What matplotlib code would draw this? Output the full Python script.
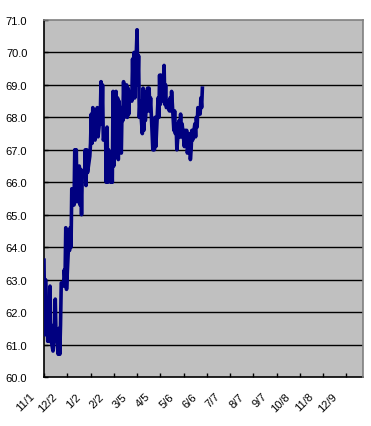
import numpy as np
import pandas as pd
import matplotlib
matplotlib.use('Agg')
import matplotlib.pyplot as plt
import matplotlib.transforms as mtransforms

plt.rcParams['font.family'] = ['Liberation Sans', 'DejaVu Sans']

# daily values, business days from 2006-11-01
start = '2006-11-01'
values = [
    63.6, 61.3, 63.0, 61.1, 62.0, 61.1, 62.8, 61.2, 60.8, 61.6,
    61.4, 62.4, 61.3, 60.7, 61.5, 60.7, 61.6, 62.9, 62.8, 63.3,
    63.0, 64.6, 62.7, 64.2, 63.9, 64.6, 64.0, 65.8, 65.3, 67.0,
    65.5, 67.0, 65.4, 66.5, 65.3, 66.4, 65.0, 66.3, 66.2, 67.0,
    65.9, 67.0, 66.3, 66.8, 67.2, 68.1, 67.2, 68.3, 67.3, 68.0,
    67.5, 68.3, 67.4, 68.1, 69.1, 67.8, 69.0, 67.3, 67.5, 66.0,
    67.7, 66.0, 67.0, 66.0, 66.8, 66.0, 68.8, 66.5, 68.8, 67.0,
    68.6, 66.7, 68.5, 66.9, 68.3, 67.9, 69.1, 68.0, 69.0, 68.0,
    68.9, 68.1, 68.8, 68.5, 69.8, 68.6, 70.0, 68.6, 70.7, 69.0,
    69.9, 68.0, 68.5, 67.5, 68.9, 67.6, 68.8, 67.9, 68.9, 68.2,
    68.9, 68.2, 68.6, 67.0, 67.9, 67.0, 68.0, 67.1, 68.6, 68.0,
    69.3, 68.4, 69.3, 68.5, 69.6, 68.4, 69.0, 68.3, 68.5, 68.2,
    68.6, 68.2, 68.8, 67.6, 68.2, 67.5, 67.8, 67.0, 67.9, 67.4,
    68.1, 67.4, 67.8, 67.1, 67.6, 67.2, 67.6, 66.9, 67.5, 66.7,
    67.0, 67.6, 67.3, 67.8, 67.4, 68.0, 67.7, 68.3, 68.1, 68.6,
    68.3, 68.9,
]
dates = pd.bdate_range(start, periods=len(values))

tick_dates = pd.date_range('2006-11-01', periods=14, freq='31D')
tick_labels = [f'{d.month}/{d.day}' for d in tick_dates]
y_ticks = np.arange(60, 72, 1)

fig = plt.figure(figsize=(3.71, 4.27), dpi=100)
ax = fig.add_axes([44/371, 1 - 378/427, 319/371, 357/427])
ax.set_facecolor('#c0c0c0')

ax.plot(dates, values, color='#000080', lw=2.6, zorder=3)

ax.set_ylim(60, 71)
ax.set_yticks(y_ticks)
ax.set_yticklabels([f'{v:.1f}' for v in y_ticks])
ax.yaxis.grid(True, color='black', lw=1)
ax.set_axisbelow(True)
# no black gridline on the top frame
gl = ax.get_ygridlines()
gl[0].set_visible(False)
gl[-1].set_visible(False)

ax.set_xlim(pd.Timestamp('2006-11-01'), pd.Timestamp('2007-12-31'))
ax.set_xticks(tick_dates)
ax.set_xticklabels(tick_labels, rotation=45, ha='right', va='top')

ax.tick_params(axis='both', direction='in', length=3, width=1, colors='black',
               labelsize=8)
ax.tick_params(axis='y', pad=12)
ax.tick_params(axis='x', pad=10)

for s in ['left', 'bottom']:
    ax.spines[s].set_color('black')
    ax.spines[s].set_linewidth(1.2)
for s in ['top', 'right']:
    ax.spines[s].set_color('#808080')
    ax.spines[s].set_linewidth(1.2)
    ax.spines[s].set_zorder(4)

offset = mtransforms.ScaledTranslation(-8/100, 0, fig.dpi_scale_trans)
for lab in ax.get_xticklabels():
    lab.set_transform(lab.get_transform() + offset)

fig.savefig('out.png', dpi=100)
